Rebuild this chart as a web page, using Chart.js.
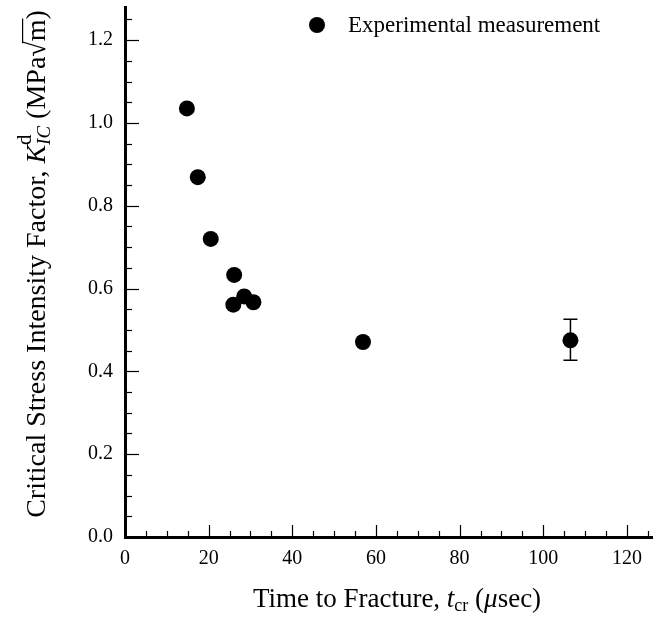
<!DOCTYPE html>
<html>
<head>
<meta charset="utf-8">
<script src="https://cdn.jsdelivr.net/npm/chart.js@4.4.1/dist/chart.umd.min.js"></script>
<style>
  html, body { margin: 0; padding: 0; background: #fff; }
  #wrap { width: 653px; height: 628px; }
</style>
</head>
<body>
<div id="wrap"><canvas id="kicChart" width="653" height="628"></canvas></div>
<script>
// data
const seriesLabel = 'Experimental measurement';
const timeToFracture = [14.8, 17.4, 20.5, 26.1, 25.9, 28.5, 30.7, 56.9, 106.5];
const kIcValues = [1.035, 0.869, 0.720, 0.633, 0.561, 0.581, 0.567, 0.471, 0.475];
const errorLow = [null, null, null, null, null, null, null, null, 0.427];
const errorHigh = [null, null, null, null, null, null, null, null, 0.526];
const xMajorTicks = [0, 20, 40, 60, 80, 100, 120];
const yMajorTicks = [0.0, 0.2, 0.4, 0.6, 0.8, 1.0, 1.2];

const SERIF = '"Liberation Serif", "DejaVu Serif", serif';

// draws a line of text made of several styled pieces (sub/superscripts etc)
function drawRich(ctx, parts, cx, cy, rotate) {
    ctx.save();
    ctx.translate(cx, cy);
    if (rotate) ctx.rotate(-Math.PI / 2);
    ctx.textBaseline = 'middle';
    ctx.textAlign = 'left';
    ctx.fillStyle = '#000';
    ctx.strokeStyle = '#000';
    let total = 0;
    const widths = parts.map(p => {
        ctx.font = (p.italic ? 'italic ' : '') + p.size + 'px ' + SERIF;
        return ctx.measureText(p.t).width;
    });
    parts.forEach((p, i) => { if (!p.stack) total += widths[i]; });
    let x = -total / 2;
    let lastX = x;
    parts.forEach((p, i) => {
        ctx.font = (p.italic ? 'italic ' : '') + p.size + 'px ' + SERIF;
        const px = p.stack ? lastX : x;
        ctx.fillText(p.t, px, p.dy || 0);
        if (p.overline) {
            ctx.lineWidth = 1.2;
            ctx.beginPath();
            ctx.moveTo(px - 2, -p.size * 0.55);
            ctx.lineTo(px + widths[i] + 1, -p.size * 0.55);
            ctx.stroke();
        }
        if (!p.stack) { lastX = x; x += widths[i]; }
    });
    ctx.restore();
}

const axisDecor = {
    id: 'axisDecor',
    afterDraw(chart) {
        const ctx = chart.ctx;
        const xs = chart.scales.x, ys = chart.scales.y;
        const area = chart.chartArea;
        ctx.save();
        ctx.strokeStyle = '#000';
        ctx.lineWidth = 1.2;
        // inward ticks on x axis
        for (let v = 0; v <= xs.max; v += 5) {
            const px = Math.round(xs.getPixelForValue(v)) + 0.5;
            const len = xMajorTicks.includes(v) ? 12 : 6;
            ctx.beginPath();
            ctx.moveTo(px, area.bottom);
            ctx.lineTo(px, area.bottom - len);
            ctx.stroke();
        }
        // inward ticks on y axis
        for (let i = 0; i * 0.05 <= ys.max; i++) {
            const py = Math.round(ys.getPixelForValue(i * 0.05)) + 0.5;
            const len = i % 4 === 0 ? 14 : 7;
            ctx.beginPath();
            ctx.moveTo(area.left, py);
            ctx.lineTo(area.left + len, py);
            ctx.stroke();
        }
        // error bars
        ctx.lineWidth = 1.5;
        timeToFracture.forEach((t, i) => {
            if (errorLow[i] == null) return;
            const px = xs.getPixelForValue(t);
            const lo = ys.getPixelForValue(errorLow[i]);
            const hi = ys.getPixelForValue(errorHigh[i]);
            ctx.beginPath();
            ctx.moveTo(px, lo); ctx.lineTo(px, hi);
            ctx.moveTo(px - 7, lo); ctx.lineTo(px + 7, lo);
            ctx.moveTo(px - 7, hi); ctx.lineTo(px + 7, hi);
            ctx.stroke();
        });
        // legend
        ctx.fillStyle = '#000';
        ctx.beginPath();
        ctx.arc(317, 25, 8, 0, Math.PI * 2);
        ctx.fill();
        ctx.font = '23px ' + SERIF;
        ctx.textBaseline = 'middle';
        ctx.fillText(seriesLabel, 348, 26);
        ctx.restore();

        // axis titles
        drawRich(ctx, [
            { t: 'Time to Fracture, ', size: 27 },
            { t: 't', size: 27, italic: true },
            { t: 'cr', size: 18, dy: 6 },
            { t: ' (', size: 27 },
            { t: 'μ', size: 27, italic: true },
            { t: 'sec)', size: 27 }
        ], 397, 600, false);

        drawRich(ctx, [
            { t: 'Critical Stress Intensity Factor, ', size: 28 },
            { t: 'K', size: 28, italic: true },
            { t: 'IC', size: 19, italic: true, dy: 7 },
            { t: 'd', size: 21, dy: -13, stack: true },
            { t: ' (MPa', size: 28 },
            { t: '√', size: 28 },
            { t: 'm', size: 28, overline: true },
            { t: ')', size: 28 }
        ], 38, 264, true);
    }
};

new Chart(document.getElementById('kicChart').getContext('2d'), {
    type: 'scatter',
    data: {
        datasets: [{
            label: seriesLabel,
            data: timeToFracture.map((t, i) => ({ x: t, y: kIcValues[i] })),
            backgroundColor: '#000',
            borderWidth: 0,
            pointRadius: 8,
            pointHoverRadius: 8
        }]
    },
    options: {
        responsive: false,
        animation: false,
        layout: { autoPadding: false, padding: { left: 0, right: 1, top: 7, bottom: 0 } },
        plugins: {
            legend: { display: false },
            tooltip: { enabled: false }
        },
        scales: {
            x: {
                type: 'linear',
                min: 0,
                max: 126,
                afterBuildTicks: s => { s.ticks = xMajorTicks.map(v => ({ value: v })); },
                afterFit: s => { s.height = 91; s.paddingLeft = 0; s.paddingRight = 0; },
                grid: { display: false, drawTicks: false },
                border: { display: true, color: '#000', width: 3 },
                ticks: {
                    color: '#000',
                    padding: 10,
                    maxRotation: 0,
                    font: { family: SERIF, size: 20 },
                    callback: v => String(v)
                }
            },
            y: {
                type: 'linear',
                min: 0,
                max: 1.28,
                afterBuildTicks: s => { s.ticks = yMajorTicks.map(v => ({ value: v })); },
                afterFit: s => { s.width = 125; s.paddingTop = 0; s.paddingBottom = 0; },
                grid: { display: false, drawTicks: false },
                border: { display: true, color: '#000', width: 3 },
                ticks: {
                    color: '#000',
                    padding: 12,
                    font: { family: SERIF, size: 20 },
                    callback: v => v.toFixed(1)
                }
            }
        }
    },
    plugins: [axisDecor]
});
</script>
</body>
</html>
